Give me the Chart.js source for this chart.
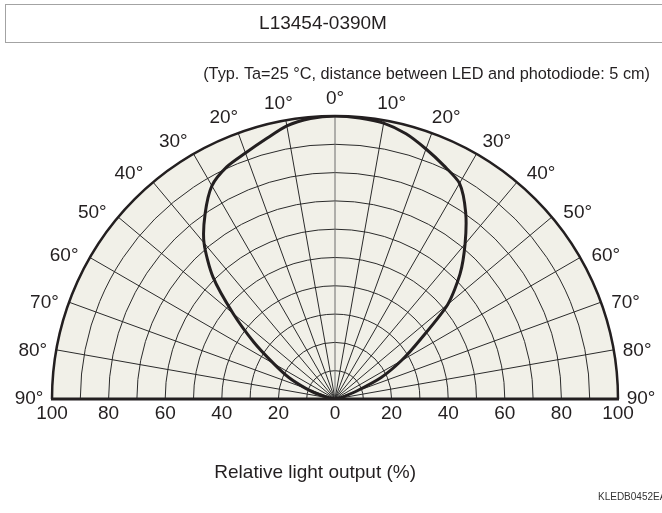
<!DOCTYPE html>
<html>
<head>
<meta charset="utf-8">
<script src="https://cdn.jsdelivr.net/npm/chart.js@4.4.1/dist/chart.umd.min.js"></script>
<style>
  html, body { margin: 0; padding: 0; background: #fff; }
  #wrap { position: relative; width: 662px; height: 513px; }
</style>
</head>
<body>
<div id="wrap"><canvas id="chart" width="662" height="513"></canvas></div>
<script>
// Angles (deg, 0 = straight up, negative = left side) and relative output (%)
const angles = [-90, -85, -80, -75, -70, -65, -60, -55, -50, -45, -40, -35, -30, -25, -20, -15, -10, -5,
  0, 5, 10, 15, 20, 25, 30, 35, 40, 45, 50, 55, 60, 65, 70, 75, 80, 85, 90];
const output = [0, 0.5, 2, 5.5, 11, 18, 25, 35, 47, 61, 72, 80, 87, 90.5, 92.5, 95, 98, 99.5,
  100, 99.7, 99, 97, 94, 91, 88, 80.5, 71.5, 62.5, 52, 37, 27, 18, 8, 3, 1, 0.3, 0];

// Grid
const rings = [10, 20, 30, 40, 50, 60, 70, 80, 90];
const spokes = [-80, -70, -60, -50, -40, -30, -20, -10, 0, 10, 20, 30, 40, 50, 60, 70, 80];
const angleLabels = [-90, -80, -70, -60, -50, -40, -30, -20, -10, 0, 10, 20, 30, 40, 50, 60, 70, 80, 90];
const xTicks = [-100, -80, -60, -40, -20, 0, 20, 40, 60, 80, 100];

const titleText = 'L13454-0390M';
const subtitleText = '(Typ. Ta=25 \u00b0C, distance between LED and photodiode: 5 cm)';
const axisTitle = 'Relative light output (%)';
const codeText = 'KLEDB0452EA';

const FONT = '"Liberation Sans", Arial, sans-serif';
const INK = '#231f20';

const deg = a => a * Math.PI / 180;
const points = angles.map((a, i) => ({ x: output[i] * Math.sin(deg(a)), y: output[i] * Math.cos(deg(a)) }));

const polarGrid = {
  id: 'polarGrid',
  beforeDatasetsDraw(chart) {
    const { ctx, scales: { x, y } } = chart;
    const cx = x.getPixelForValue(0), cy = y.getPixelForValue(0);
    const rad = v => x.getPixelForValue(v) - cx;
    const R = rad(100);
    ctx.save();
    // background
    ctx.beginPath();
    ctx.moveTo(cx - R, cy);
    ctx.arc(cx, cy, R, Math.PI, 2 * Math.PI);
    ctx.closePath();
    ctx.fillStyle = '#f1f0e8';
    ctx.fill();

    // rings
    ctx.strokeStyle = '#2b2b2b';
    ctx.lineWidth = 1;
    rings.forEach(v => {
      ctx.beginPath();
      ctx.arc(cx, cy, rad(v), Math.PI, 2 * Math.PI);
      ctx.stroke();
    });
    // spokes
    spokes.forEach(a => {
      ctx.beginPath();
      ctx.moveTo(cx, cy);
      ctx.lineTo(cx + R * Math.sin(deg(a)), cy - R * Math.cos(deg(a)));
      ctx.strokeStyle = a === 0 ? '#6d6d6d' : '#2b2b2b';
      ctx.stroke();
    });

    // outer circle + base line
    ctx.strokeStyle = INK;
    ctx.lineWidth = 2.5;
    ctx.beginPath();
    ctx.arc(cx, cy, R, Math.PI, 2 * Math.PI);
    ctx.stroke();
    ctx.lineWidth = 3;
    ctx.beginPath();
    ctx.moveTo(cx - R - 1, cy);
    ctx.lineTo(cx + R + 1, cy);
    ctx.stroke();
    ctx.restore();
  },
  afterDraw(chart) {
    const { ctx, scales: { x, y } } = chart;
    const cx = x.getPixelForValue(0), cy = y.getPixelForValue(0);
    const R = x.getPixelForValue(100) - cx;
    ctx.save();
    ctx.fillStyle = INK;
    ctx.textBaseline = 'middle';
    ctx.textAlign = 'center';

    // angle labels round the rim
    ctx.font = '19px ' + FONT;
    angleLabels.forEach(a => {
      const s2 = Math.sin(2 * deg(Math.abs(a)));
      const t = deg(a + Math.sign(a) * 2.5 * s2);
      const r = R + 17 + 5 * s2 * s2 + 6 * Math.pow(Math.sin(deg(Math.abs(a))), 6);
      ctx.fillText(Math.abs(a) + '\u00b0', cx + r * Math.sin(t), cy - r * Math.cos(t));
    });

    // x tick labels
    xTicks.forEach(v => {
      ctx.fillText(String(Math.abs(v)), x.getPixelForValue(v), cy + 15);
    });

    // axis title
    ctx.font = '19px ' + FONT;
    ctx.fillText(axisTitle, x.getPixelForValue(-7), cy + 74);

    // subtitle
    ctx.font = '16.3px ' + FONT;
    ctx.textAlign = 'right';
    ctx.fillText(subtitleText, 650, 75);

    // title box
    ctx.strokeStyle = '#a3a3a3';
    ctx.lineWidth = 1;
    ctx.strokeRect(5.5, 4.5, 700, 38);
    ctx.textAlign = 'center';
    ctx.font = '19px ' + FONT;
    ctx.fillText(titleText, 323, 24);

    // figure code
    ctx.textAlign = 'left';
    ctx.font = '10px ' + FONT;
    ctx.fillStyle = '#333';
    ctx.fillText(codeText, 598, 497);
    ctx.restore();
  }
};

new Chart(document.getElementById('chart'), {
  type: 'scatter',
  data: {
    datasets: [{
      data: points,
      showLine: true,
      borderColor: INK,
      borderWidth: 3,
      pointRadius: 0,
      tension: 0.25,
      fill: false,
    }],
  },
  options: {
    responsive: false,
    animation: false,
    layout: { padding: { left: 52, right: 44, top: 116, bottom: 114 } },
    plugins: { legend: { display: false }, tooltip: { enabled: false }, title: { display: false } },
    scales: {
      x: { type: 'linear', min: -100, max: 100, display: false },
      y: { type: 'linear', min: 0, max: 100, display: false },
    },
  },
  plugins: [polarGrid],
});
</script>
</body>
</html>
